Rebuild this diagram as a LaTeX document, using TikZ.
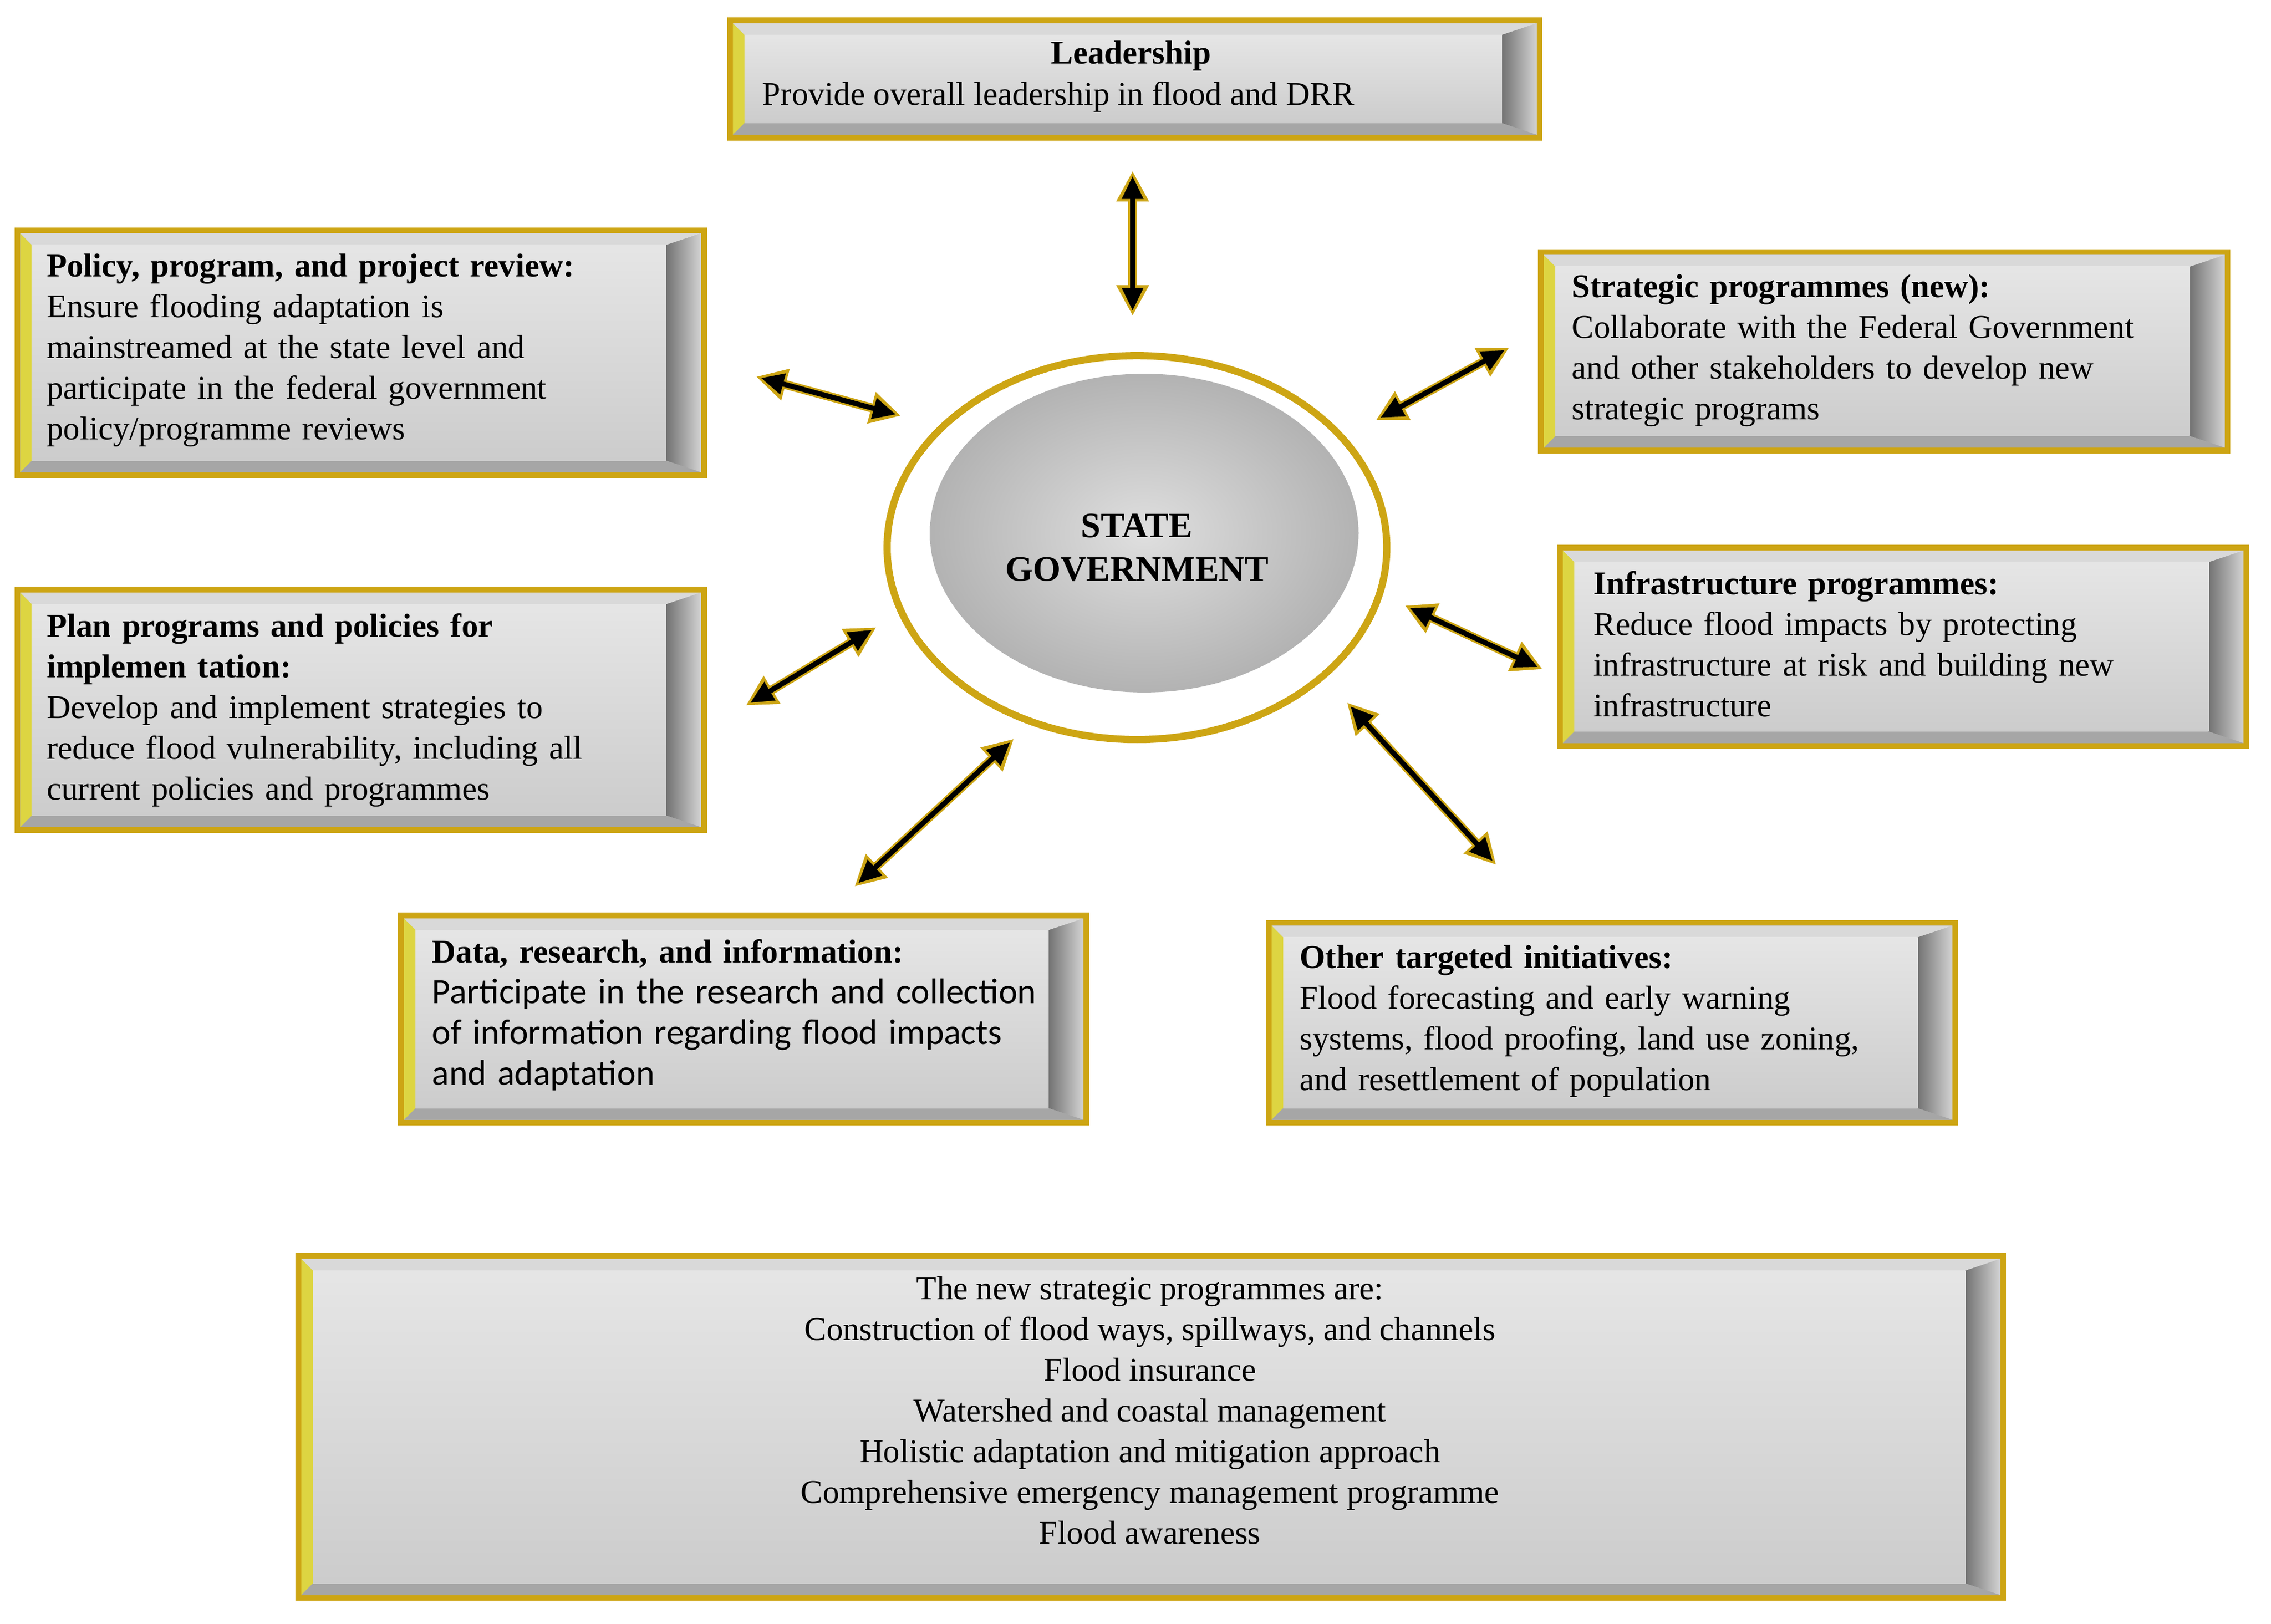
\documentclass[tikz,border=0pt]{standalone}
\usepackage{fontspec}
\setmainfont{Liberation Serif}
\newfontfamily\sansf{Carlito}
\usetikzlibrary{arrows.meta,shapes.geometric}
\definecolor{gold}{RGB}{205,165,20}
\tikzset{
 txt/.style={anchor=north west,align=left,inner sep=0pt,font=\fontsize{13}{16}\selectfont},
 dbl/.style={line width=3.5pt,draw=gold,{Triangle[length=12pt,width=12pt]}-{Triangle[length=12pt,width=12pt]}},
 sgl/.style={line width=2pt,draw=black,{Triangle[length=9pt,width=8pt]}-{Triangle[length=9pt,width=8pt]}}
}
\newcommand\bevbox[5]{% name x1 y1 x2 y2
 \coordinate (#1) at ({(#2+#4)/2},{(#3+#5)/2});
 \fill[gold] (#2,#3) rectangle (#4,#5);
 \fill[gray!55] (#2+4,#3+4) rectangle (#4-4,#5-4);
 \shade[left color=gray!90!black,right color=gray!35] (#4-4,#3+4) -- (#4-28,#3+12) -- (#4-28,#5-12) -- (#4-4,#5-4) -- cycle;
 \fill[yellow!70!gray] (#2+4,#3+4) -- (#2+12,#3+12) -- (#2+12,#5-12) -- (#2+4,#5-4) -- cycle;
 \fill[gray!30] (#2+4,#3+4) -- (#2+12,#3+12) -- (#4-28,#3+12) -- (#4-4,#3+4) -- cycle;
 \fill[gray!70] (#2+4,#5-4) -- (#2+12,#5-12) -- (#4-28,#5-12) -- (#4-4,#5-4) -- cycle;
 \shade[top color=gray!20,bottom color=gray!40] (#2+12,#3+12) rectangle (#4-28,#5-12);
}
\begin{document}
\begin{tikzpicture}[x=0.2mm,y=-0.2mm]
\useasboundingbox (0,0) rectangle (1568,1121);
\fill[white] (0,0) rectangle (1568,1121);
\bevbox{lead}{502}{12}{1065}{97}
\bevbox{pol}{10}{157}{488}{330}
\bevbox{strat}{1062}{172}{1540}{313}
\bevbox{plan}{10}{405}{488}{575}
\bevbox{infra}{1075}{376}{1553}{517}
\bevbox{data}{275}{630}{752}{777}
\bevbox{other}{874}{635}{1352}{777}
\bevbox{bot}{204}{865}{1385}{1105}
% ellipse
\fill[gold] (785,378) ellipse [x radius=175,y radius=135];
\fill[white] (785,378) ellipse [x radius=170,y radius=130];
\shade[inner color=gray!25,outer color=gray!60] (790,368) ellipse [x radius=148,y radius=110];
\node[font=\bfseries\fontsize{14}{17}\selectfont,align=center] (gov) at (785,378) {STATE\\GOVERNMENT};
% texts
\node[txt,anchor=north,font=\bfseries\fontsize{13}{16}\selectfont] (t1a) at (781,28) {Leadership};
\node[txt] (t1) at (526,56) {Provide overall leadership in flood and DRR};
\node[txt,text width=420] (t2) at (32,175) {\textbf{Policy, program, and project review:}\\Ensure flooding adaptation is\\mainstreamed at the state level and\\participate in the federal government\\policy/programme reviews};
\node[txt,text width=430] (t3) at (1085,189) {\textbf{Strategic programmes (new):}\\Collaborate with the Federal Government\\and other stakeholders to develop new\\strategic programs};
\node[txt,text width=420] (t4) at (32,423) {\textbf{Plan programs and policies for}\\\textbf{implemen tation:}\\Develop and implement strategies to\\reduce flood vulnerability, including all\\current policies and programmes};
\node[txt,text width=420] (t5) at (1100,394) {\textbf{Infrastructure programmes:}\\Reduce flood impacts by protecting\\infrastructure at risk and building new\\infrastructure};
\node[txt,text width=430] (t6) at (298,648) {\textbf{Data, research, and information:}\\{\sansf\fontsize{14}{16}\selectfont Participate in the research and collection\\of information regarding flood impacts\\and adaptation}};
\node[txt,text width=430] (t7) at (897,652) {\textbf{Other targeted initiatives:}\\Flood forecasting and early warning\\systems, flood proofing, land use zoning,\\and resettlement of population};
\node[txt,anchor=north,align=center] (t8) at (794,881) {The new strategic programmes are:\\Construction of flood ways, spillways, and channels\\Flood insurance\\Watershed and coastal management\\Holistic adaptation and mitigation approach\\Comprehensive emergency management programme\\Flood awareness};
% arrow endpoints
\coordinate (a1) at (782,118); \coordinate (b1) at (782,218);
\coordinate (a2) at (522,260); \coordinate (b2) at (622,287);
\coordinate (a3) at (1042,240); \coordinate (b3) at (950,290);
\coordinate (a4) at (515,487); \coordinate (b4) at (605,433);
\coordinate (a5) at (970,418); \coordinate (b5) at (1065,462);
\coordinate (a6) at (590,612); \coordinate (b6) at (700,510);
\coordinate (a7) at (930,485); \coordinate (b7) at (1033,597);
\foreach \i in {1,...,7}{
 \draw[dbl] (a\i) -- (b\i);
 \draw[sgl,shorten <=2pt,shorten >=2pt] (a\i) -- (b\i);
}
\end{tikzpicture}
\end{document}
